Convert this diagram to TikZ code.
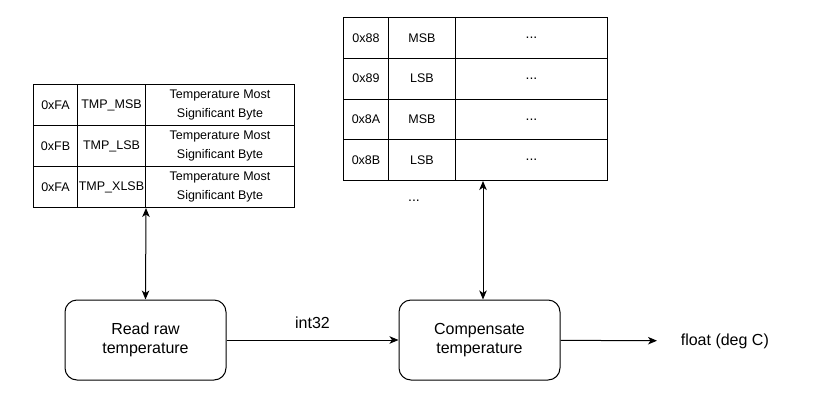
\documentclass[tikz,border=0pt]{standalone}
\usepackage{fontspec}
\setmainfont{Liberation Sans}
\usetikzlibrary{arrows.meta}
\usetikzlibrary{positioning}

\begin{document}
\begin{tikzpicture}[x=1pt,y=-1pt,>={Stealth[length=9pt,width=7.5pt,inset=2.5pt]},line width=1pt]
	\tikzstyle{cell}=[draw=black, inner sep=0pt, anchor=north west, align=center, font=\fontsize{12.5}{19.5}\selectfont]
	\tikzstyle{block}=[draw=black, rounded corners=12pt, minimum width=161pt, minimum height=80pt, align=center, font=\fontsize{16}{19}\selectfont]
	\useasboundingbox (0,0) rectangle (814,407);

	% register table of the raw reading
	\foreach \addr/\name [count=\i] in {0xFA/TMP\_MSB, 0xFB/TMP\_LSB, 0xFA/TMP\_XLSB} {
		\node[cell, minimum width=44pt, minimum height=41pt] (ta\i) at (33,{84+41*(\i-1)}) {\addr};
		\node[cell, minimum width=68pt, minimum height=41pt] (tb\i) at (77,{84+41*(\i-1)}) {\name};
		\node[cell, minimum width=149pt, minimum height=41pt] (tc\i) at (145,{84+41*(\i-1)}) {Temperature Most\\Significant Byte};
	}

	% calibration table
	\foreach \addr/\name [count=\i] in {0x88/MSB, 0x89/LSB, 0x8A/MSB, 0x8B/LSB} {
		\node[cell, minimum width=45pt, minimum height=40.75pt] (ca\i) at (343,{17+40.75*(\i-1)}) {\addr};
		\node[cell, minimum width=67pt, minimum height=40.75pt] (cb\i) at (388,{17+40.75*(\i-1)}) {\name};
		\node[cell, minimum width=152pt, minimum height=40.75pt, font=\fontsize{14}{17}\selectfont] (cc\i) at (455,{17+40.75*(\i-1)}) {...};
	}
	\node[font=\fontsize{14}{17}\selectfont] (more) at (414,201) {...};

	\node[block] (read) at (145.5,340) {Read raw\\temperature};
	\node[block] (comp) at (479.5,340) {Compensate\\temperature};
	\node[font=\fontsize{16}{19}\selectfont, anchor=west] (out) at (677,341) {float (deg C)};

	\draw[<->] (tb3.south east) -- (read.north);
	\draw[<->] ([xshift=3.5pt]comp.north |- cc4.south) -- ([xshift=3.5pt]comp.north);
	\draw[->] (read) -- node[above=8pt, font=\fontsize{16}{19}\selectfont] {int32} (comp);
	\draw[->, shorten >=20pt] (comp) -- (out);
\end{tikzpicture}
\end{document}
